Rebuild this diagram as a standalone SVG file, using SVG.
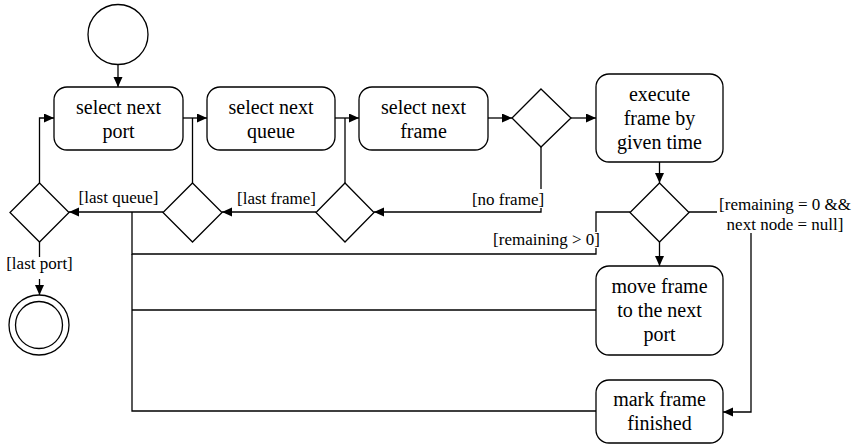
<svg xmlns="http://www.w3.org/2000/svg" width="856" height="445" viewBox="0 0 856 445">
  <style>
    .node { fill: #ffffff; stroke: #000000; stroke-width: 1.3; }
    .edge { fill: none; stroke: #000000; stroke-width: 1.3; }
    .txt { font-size: 20px; fill: #000000; text-anchor: middle; }
    .lbl { font-size: 17px; fill: #000000; text-anchor: middle; }
    .bg { fill: #ffffff; stroke: none; }
  </style>
  <defs>
    <marker id="arrow" markerUnits="userSpaceOnUse" markerWidth="11" markerHeight="10" refX="10" refY="4.5" orient="auto">
      <path d="M0,0 L10,4.5 L0,9 Z" fill="#000000"/>
    </marker>
  </defs>
  <rect width="856" height="445" fill="#ffffff"/>

  <g font-family="'Liberation Serif', 'DejaVu Serif', serif">
  <!-- connectors -->
  <g id="connectors">
    <path class="edge" d="M118,64 V87" marker-end="url(#arrow)"/>
    <path class="edge" d="M183,118 H207" marker-end="url(#arrow)"/>
    <path class="edge" d="M335,118 H359" marker-end="url(#arrow)"/>
    <path class="edge" d="M488,118 H512" marker-end="url(#arrow)"/>
    <path class="edge" d="M571,118 H596" marker-end="url(#arrow)"/>
    <!-- no frame -->
    <path class="edge" d="M541,147 V212 H374" marker-end="url(#arrow)"/>
    <rect class="bg" x="470" y="189" width="76" height="19"/>
    <text class="lbl" x="508" y="205">[no frame]</text>
    <!-- last frame -->
    <path class="edge" d="M345,183 V118"/>
    <path class="edge" d="M316,212 H222" marker-end="url(#arrow)"/>
    <text class="lbl" x="276.5" y="204">[last frame]</text>
    <!-- last queue -->
    <path class="edge" d="M192.5,183 V118"/>
    <path class="edge" d="M163,212 H69" marker-end="url(#arrow)"/>
    <text class="lbl" x="118.5" y="203">[last queue]</text>
    <!-- back to select next port -->
    <path class="edge" d="M39.5,183 V118 H54" marker-end="url(#arrow)"/>
    <!-- last port -->
    <path class="edge" d="M39.5,242 V295" marker-end="url(#arrow)"/>
    <rect class="bg" x="5" y="257" width="70" height="22"/>
    <text class="lbl" x="39.5" y="268.5">[last port]</text>
    <!-- execute to decision -->
    <path class="edge" d="M659.5,162 V183" marker-end="url(#arrow)"/>
    <path class="edge" d="M659.5,242 V266" marker-end="url(#arrow)"/>
    <!-- remaining > 0 -->
    <path class="edge" d="M630,212 H596 V254 H132 V212"/>
    <rect class="bg" x="491" y="232" width="110" height="16"/>
    <text class="lbl" x="546.5" y="244.5">[remaining &gt; 0]</text>
    <!-- returns to the loop -->
    <path class="edge" d="M596,310 H132"/>
    <path class="edge" d="M596,411 H132 V254"/>
    <!-- remaining = 0 && next node = null -->
    <path class="edge" d="M689,212 H751 V412 H723" marker-end="url(#arrow)"/>
    <rect class="bg" x="717" y="194" width="137" height="39"/>
    <text class="lbl" x="785" y="209.5">[remaining = 0 &amp;&amp;</text>
    <text class="lbl" x="785" y="230">next node = null]</text>
  </g>

  <!-- nodes -->
  <g id="start">
    <circle class="node" cx="118" cy="34.5" r="30"/>
  </g>
  <g id="select-port">
    <rect class="node" x="54" y="87" width="129" height="63" rx="13"/>
    <text class="txt" x="118.5" y="113.5">select next</text>
    <text class="txt" x="118.5" y="137.5">port</text>
  </g>
  <g id="select-queue">
    <rect class="node" x="207" y="87" width="128" height="63" rx="13"/>
    <text class="txt" x="271" y="113.5">select next</text>
    <text class="txt" x="271" y="137.5">queue</text>
  </g>
  <g id="select-frame">
    <rect class="node" x="359" y="87" width="129" height="63" rx="13"/>
    <text class="txt" x="423.5" y="113.5">select next</text>
    <text class="txt" x="423.5" y="137.5">frame</text>
  </g>
  <g id="has-frame">
    <polygon class="node" points="541,89 571,118 541,147 512,118"/>
  </g>
  <g id="execute">
    <rect class="node" x="596" y="74" width="127" height="88" rx="13"/>
    <text class="txt" x="659.5" y="100.5">execute</text>
    <text class="txt" x="659.5" y="124.5">frame by</text>
    <text class="txt" x="659.5" y="148.5">given time</text>
  </g>
  <g id="remaining-check">
    <polygon class="node" points="659.5,183 689,212.5 659.5,242 630,212.5"/>
  </g>
  <g id="move-frame">
    <rect class="node" x="596" y="266" width="127" height="89" rx="13"/>
    <text class="txt" x="659.5" y="292.5">move frame</text>
    <text class="txt" x="659.5" y="316.5">to the next</text>
    <text class="txt" x="659.5" y="340.5">port</text>
  </g>
  <g id="mark-finished">
    <rect class="node" x="596" y="380" width="127" height="63" rx="13"/>
    <text class="txt" x="659.5" y="406">mark frame</text>
    <text class="txt" x="659.5" y="430">finished</text>
  </g>
  <g id="last-frame-check">
    <polygon class="node" points="345,183 374,212.5 345,242 316,212.5"/>
  </g>
  <g id="last-queue-check">
    <polygon class="node" points="192.5,183 222,212.5 192.5,242 163,212.5"/>
  </g>
  <g id="last-port-check">
    <polygon class="node" points="39.5,183 69,212.5 39.5,242 10,212.5"/>
  </g>
  <g id="end">
    <circle class="node" cx="39" cy="325" r="30"/>
    <circle class="node" cx="39" cy="325" r="23.5"/>
  </g>
  </g>
</svg>
